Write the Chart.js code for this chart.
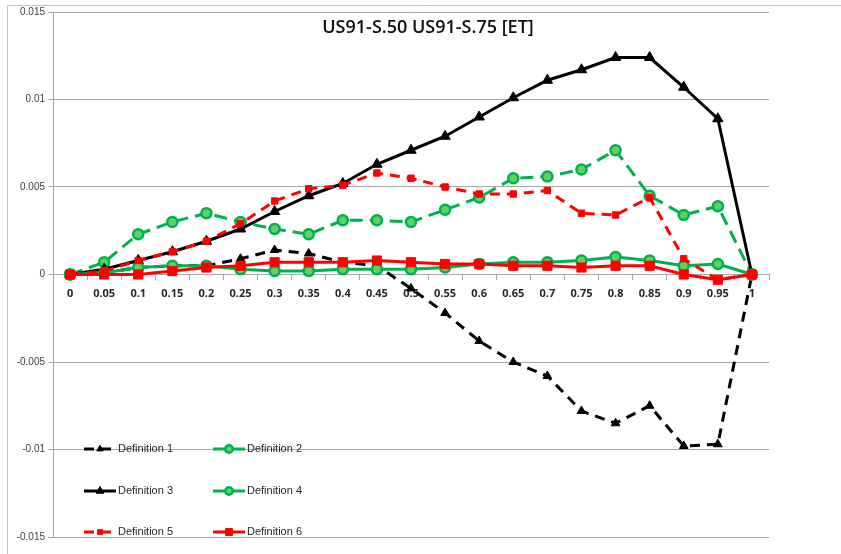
<!DOCTYPE html>
<html>
<head>
<meta charset="utf-8">
<title>US91-S.50 US91-S.75 [ET]</title>
<script src="https://cdn.jsdelivr.net/npm/chart.js@4/dist/chart.umd.min.js"></script>
<style>
  html, body { margin: 0; padding: 0; background: #fff; }
  #wrap { width: 841px; height: 554px; position: relative; }
</style>
</head>
<body>
<div id="wrap"><canvas id="etChart" width="841" height="554"></canvas></div>
<script>
const xLabels = ['0', '0.05', '0.1', '0.15', '0.2', '0.25', '0.3', '0.35', '0.4', '0.45', '0.5',
  '0.55', '0.6', '0.65', '0.7', '0.75', '0.8', '0.85', '0.9', '0.95', '1'];

const def1 = [0, 0.0001, 0.0004, 0.0005, 0.0005, 0.0009, 0.0014, 0.0012, 0.0007, 0.0005, -0.0008,
  -0.0022, -0.0038, -0.0050, -0.0058, -0.0078, -0.0085, -0.0075, -0.0098, -0.0097, 0];
const def2 = [0, 0.0007, 0.0023, 0.0030, 0.0035, 0.0030, 0.0026, 0.0023, 0.0031, 0.0031, 0.0030,
  0.0037, 0.0044, 0.0055, 0.0056, 0.0060, 0.0071, 0.0045, 0.0034, 0.0039, 0];
const def3 = [0, 0.0003, 0.0008, 0.0013, 0.0019, 0.0026, 0.0036, 0.0045, 0.0052, 0.0063, 0.0071,
  0.0079, 0.0090, 0.0101, 0.0111, 0.0117, 0.0124, 0.0124, 0.0107, 0.0089, 0];
const def4 = [0, 0.0001, 0.0004, 0.0005, 0.0005, 0.0003, 0.0002, 0.0002, 0.0003, 0.0003, 0.0003,
  0.0004, 0.0006, 0.0007, 0.0007, 0.0008, 0.0010, 0.0008, 0.0005, 0.0006, 0];
const def5 = [0, 0.0002, 0.0008, 0.0013, 0.0019, 0.0029, 0.0042, 0.0049, 0.0051, 0.0058, 0.0055,
  0.0050, 0.0046, 0.0046, 0.0048, 0.0035, 0.0034, 0.0044, 0.0009, -0.0003, 0];
const def6 = [0, 0, 0, 0.0002, 0.0004, 0.0005, 0.0007, 0.0007, 0.0007, 0.0008, 0.0007,
  0.0006, 0.0006, 0.0005, 0.0005, 0.0004, 0.0005, 0.0005, 0, -0.0003, 0];

const seriesNames = ['Definition 1', 'Definition 2', 'Definition 3', 'Definition 4', 'Definition 5', 'Definition 6'];
const chartTitle = 'US91-S.50 US91-S.75 [ET]';

const BLACK = '#000000';
const GREEN = '#00B050';
const GREEN_FILL = '#5fd35f';
const RED = '#FF0000';
const GRID = '#a6a6a6';

function series(i, data, color, dash, style, radius, fill) {
  return {
    label: seriesNames[i],
    data: data,
    borderColor: color,
    backgroundColor: fill || color,
    borderWidth: 3,
    borderDash: dash,
    pointStyle: style,
    pointRadius: radius,
    pointBorderWidth: style === 'circle' ? 2.5 : 1,
    pointBackgroundColor: fill || color,
    pointBorderColor: color,
    tension: 0,
    order: 6 - i
  };
}

// frame line and the title that sits inside the plot
const framePlugin = {
  id: 'frame',
  beforeDraw(chart) {
    const ctx = chart.ctx;
    ctx.save();
    ctx.strokeStyle = '#c4c4c4';
    ctx.lineWidth = 1;
    ctx.beginPath();
    ctx.moveTo(7.5, chart.height);
    ctx.lineTo(7.5, 5.5);
    ctx.lineTo(chart.width, 5.5);
    ctx.stroke();
    ctx.restore();
  },
  afterDraw(chart) {
    const ctx = chart.ctx;
    ctx.save();
    ctx.fillStyle = '#0d0d0d';
    ctx.font = '600 18px "Open Sans", sans-serif';
    ctx.textAlign = 'center';
    ctx.textBaseline = 'middle';
    ctx.fillText(chartTitle, 428, 28);
    ctx.restore();
  }
};

// two column legend drawn in the lower left of the plot
const legendPlugin = {
  id: 'cornerLegend',
  afterDraw(chart) {
    const ctx = chart.ctx;
    const area = chart.chartArea;
    const rows = [449, 491, 532];
    const cols = [area.left + 31, area.left + 160];
    chart.data.datasets.forEach((ds, i) => {
      const x = cols[i % 2];
      const y = rows[Math.floor(i / 2)];
      ctx.save();
      ctx.strokeStyle = ds.borderColor;
      ctx.lineWidth = 3;
      ctx.setLineDash(ds.borderDash || []);
      ctx.beginPath();
      ctx.moveTo(x, y);
      ctx.lineTo(x + 32, y);
      ctx.stroke();
      ctx.setLineDash([]);

      // legend markers are a little smaller than the ones on the lines
      ctx.fillStyle = ds.pointBackgroundColor;
      ctx.strokeStyle = ds.pointBorderColor;
      ctx.lineWidth = ds.pointBorderWidth;
      Chart.helpers.drawPoint(ctx, {
        pointStyle: ds.pointStyle,
        radius: ds.pointRadius * 0.75,
        borderWidth: ds.pointBorderWidth
      }, x + 16, y);

      ctx.fillStyle = '#262626';
      ctx.font = '11px "Liberation Sans", Arial, sans-serif';
      ctx.textAlign = 'left';
      ctx.textBaseline = 'middle';
      ctx.fillText(ds.label, x + 34, y);
      ctx.restore();
    });
  }
};

new Chart(document.getElementById('etChart'), {
  type: 'line',
  data: {
    labels: xLabels,
    datasets: [
      series(0, def1, BLACK, [10, 7], 'triangle', 5),
      series(1, def2, GREEN, [13, 7], 'circle', 5, GREEN_FILL),
      series(2, def3, BLACK, [], 'triangle', 6),
      series(3, def4, GREEN, [], 'circle', 5, GREEN_FILL),
      series(4, def5, RED, [10, 7], 'rect', 4.5),
      series(5, def6, RED, [], 'rect', 6.5)
    ]
  },
  options: {
    responsive: false,
    animation: false,
    layout: { padding: { left: 0, top: 12, right: 72, bottom: 17 } },
    plugins: {
      legend: { display: false },
      title: { display: false },
      tooltip: { enabled: false }
    },
    scales: {
      x: {
        type: 'category',
        offset: true,
        position: { y: 0 },
        afterFit(scale) { scale.height = 0; },
        grid: { display: true, drawOnChartArea: false, offset: true, color: GRID, tickLength: 5 },
        border: { display: true, color: GRID, width: 1 },
        ticks: {
          color: '#262626',
          font: { family: '"Open Sans", sans-serif', size: 11, weight: 'bold' },
          padding: 8,
          maxRotation: 0,
          autoSkip: false
        }
      },
      y: {
        min: -0.015,
        max: 0.015,
        afterFit(scale) { scale.width = 53; },
        grid: { color: GRID, tickLength: 5, lineWidth: 1 },
        border: { display: true, color: GRID },
        ticks: {
          stepSize: 0.005,
          color: '#404040',
          font: { family: '"Liberation Sans", Arial, sans-serif', size: 10 },
          padding: 3,
          callback: v => String(+v.toFixed(3))
        }
      }
    }
  },
  plugins: [framePlugin, legendPlugin]
});
</script>
</body>
</html>
